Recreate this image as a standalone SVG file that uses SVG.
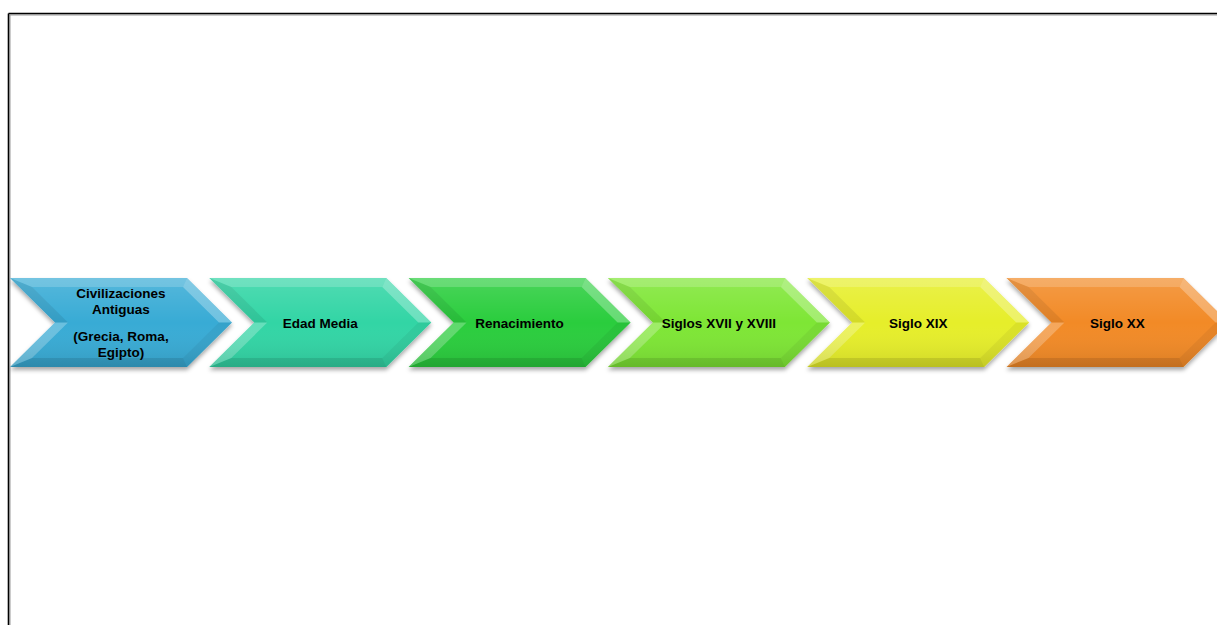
<svg xmlns="http://www.w3.org/2000/svg" xmlns:xlink="http://www.w3.org/1999/xlink" width="1217" height="625" viewBox="0 0 1217 625">
<style>
.lbl{font-family:"Liberation Sans",Arial,sans-serif;font-weight:bold;font-size:13.5px;fill:#000;text-anchor:middle}
.frame{fill:none;stroke:#000;stroke-width:1.6}
.frameSh{fill:none;stroke:#999;stroke-width:1}
</style>
<defs>
<filter id="sh" x="-10%" y="-20%" width="120%" height="150%">
<feDropShadow dx="0" dy="3" stdDeviation="2" flood-color="#000" flood-opacity="0.35"/>
</filter>
<linearGradient id="shade" x1="0" y1="0" x2="0" y2="1">
<stop offset="0" stop-color="#fff" stop-opacity="0.15"/>
<stop offset="0.5" stop-color="#fff" stop-opacity="0"/>
<stop offset="1" stop-color="#000" stop-opacity="0.1"/>
</linearGradient>
<polygon id="outer" points="0,278 177,278 222,322.5 177,367 0,367 45,322.5"/>
<g id="bevel">
<polygon points="0,278 177,278 173,287 22,287" fill="#fff" fill-opacity="0.18"/>
<polygon points="177,278 222,322.5 209,322.5 173,287" fill="#fff" fill-opacity="0.28"/>
<polygon points="222,322.5 177,367 173,358 209,322.5" fill="#000" fill-opacity="0.05"/>
<polygon points="177,367 0,367 22,358 173,358" fill="#000" fill-opacity="0.1"/>
<polygon points="0,367 45,322.5 58,322.5 22,358" fill="#fff" fill-opacity="0.25"/>
<polygon points="45,322.5 0,278 22,287 58,322.5" fill="#000" fill-opacity="0.08"/>
<use xlink:href="#outer" fill="url(#shade)"/>
</g>
</defs>
<g id="frame">
<path class="frameSh" d="M9.5,15 H1217 M10,15 V625"/>
<path class="frame" d="M8.5,13.5 H1217 M8.5,13.5 V625"/>
</g>
<g id="connectors"/>
<g id="n1" transform="translate(10,0)">
<use xlink:href="#outer" fill="#38abd5" filter="url(#sh)"/>
<use xlink:href="#bevel"/>
<text class="lbl" x="111" y="298">Civilizaciones</text>
<text class="lbl" x="111" y="314">Antiguas</text>
<text class="lbl" x="111" y="341">(Grecia, Roma,</text>
<text class="lbl" x="111" y="357">Egipto)</text>
</g>
<g id="n2" transform="translate(209.3,0)">
<use xlink:href="#outer" fill="#30d5a5" filter="url(#sh)"/>
<use xlink:href="#bevel"/>
<text class="lbl" x="111" y="327.5">Edad Media</text>
</g>
<g id="n3" transform="translate(408.6,0)">
<use xlink:href="#outer" fill="#2ccd3c" filter="url(#sh)"/>
<use xlink:href="#bevel"/>
<text class="lbl" x="111" y="327.5">Renacimiento</text>
</g>
<g id="n4" transform="translate(607.9,0)">
<use xlink:href="#outer" fill="#7ee634" filter="url(#sh)"/>
<use xlink:href="#bevel"/>
<text class="lbl" x="111" y="327.5">Siglos XVII y XVIII</text>
</g>
<g id="n5" transform="translate(807.2,0)">
<use xlink:href="#outer" fill="#e6ee2c" filter="url(#sh)"/>
<use xlink:href="#bevel"/>
<text class="lbl" x="111" y="327.5">Siglo XIX</text>
</g>
<g id="n6" transform="translate(1006.5,0)">
<use xlink:href="#outer" fill="#f28a26" filter="url(#sh)"/>
<use xlink:href="#bevel"/>
<text class="lbl" x="111" y="327.5">Siglo XX</text>
</g>
</svg>
